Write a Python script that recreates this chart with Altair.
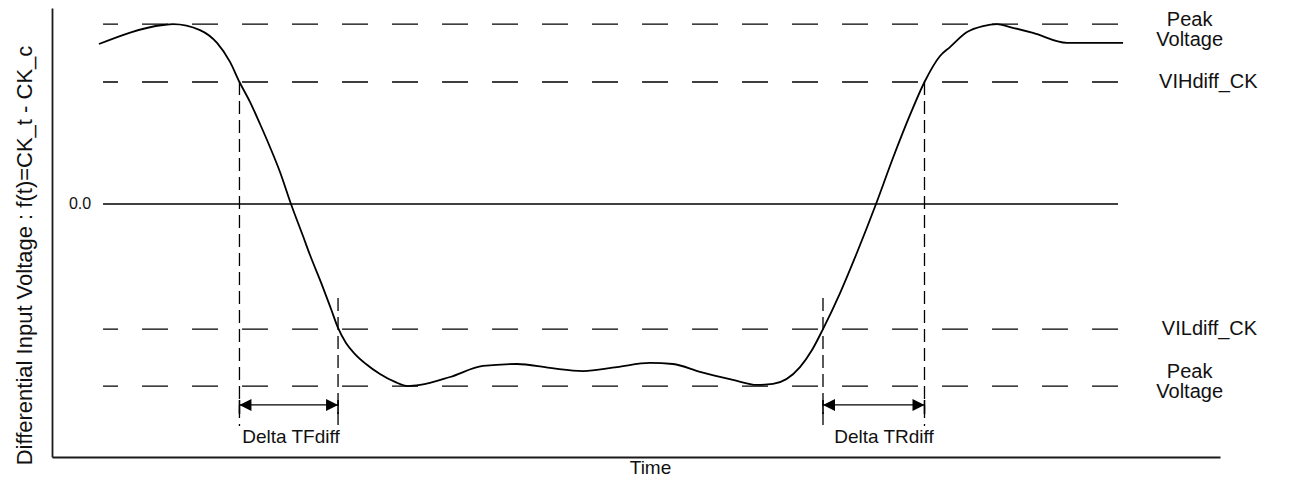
import altair as alt
import pandas as pd

# ---------------- data ----------------
time_domain = [0, 100]          # arbitrary time units
volt_domain = [-1.398, 1.083]   # normalised differential voltage

curve_t = [4.02, 9.50, 10.36, 12.67, 14.13, 15.24, 16.05, 16.95, 17.81, 18.66,
           19.52, 20.46, 21.49, 22.09, 23.12, 23.89, 24.49, 25.17, 25.94, 26.88,
           28.08, 29.37, 30.48, 31.51, 34.08, 36.90, 39.81, 42.64, 45.46, 48.37,
           51.20, 53.17, 55.48, 58.30, 60.36, 61.73, 64.04, 65.07, 66.01, 67.47,
           69.01, 70.55, 72.00, 73.46, 74.70, 76.03, 76.88, 78.34, 79.71, 80.91,
           82.02, 83.99, 86.90, 91.70]
curve_v = [0.884, 0.989, 0.994, 0.961, 0.890, 0.785, 0.674, 0.564, 0.442, 0.315,
           0.177, 0.000, -0.177, -0.282, -0.448, -0.580, -0.685, -0.768, -0.829, -0.884,
           -0.939, -0.983, -1.006, -1.000, -0.956, -0.895, -0.884, -0.906, -0.923, -0.901,
           -0.878, -0.884, -0.928, -0.972, -1.000, -0.994, -0.901, -0.807, -0.691, -0.492,
           -0.254, 0.000, 0.254, 0.492, 0.674, 0.818, 0.867, 0.950, 0.983, 0.994,
           0.978, 0.945, 0.890, 0.890]

level_names = ["Peak Voltage (high)", "VIHdiff_CK", "VILdiff_CK", "Peak Voltage (low)"]
level_values = [0.994, 0.674, -0.691, -1.006]
level_start, level_end = 4.37, 91.44
zero_value = 0.0
zero_start, zero_end = 4.37, 91.27

level_labels = ["Peak\nVoltage", "VIHdiff_CK", "VILdiff_CK", "Peak\nVoltage"]
level_label_t = [97.4, 99.0, 99.1, 97.4]
level_label_v = [1.014, 0.674, -0.691, -0.930]

zero_label = "0.0"
zero_label_t = 2.4

cross_t = [16.05, 24.49, 66.01, 74.70]
cross_top_v = [0.674, -0.519, -0.519, 0.674]
cross_bottom_v = -1.227

arrow_start_t = [16.05, 66.01]
arrow_end_t = [24.49, 74.70]
arrow_v = -1.110
arrow_tick_top, arrow_tick_bottom = -1.083, -1.160

delta_labels = ["Delta TFdiff", "Delta TRdiff"]
delta_label_t = [20.46, 71.23]
delta_label_v = -1.287

FONT = "Liberation Sans"
INK = "#111111"

# ---------------- tables ----------------
curve_df = pd.DataFrame({"t": curve_t, "v": curve_v})
levels_df = pd.DataFrame({"name": level_names, "v": level_values,
                          "t0": level_start, "t1": level_end})
zero_df = pd.DataFrame({"v": [zero_value], "t0": [zero_start], "t1": [zero_end],
                        "lab": [zero_label], "lt": [zero_label_t]})
labels_df = pd.DataFrame({"lab": level_labels, "t": level_label_t, "v": level_label_v})
cross_df = pd.DataFrame({"t": cross_t, "v0": cross_top_v, "v1": cross_bottom_v})
arrow_df = pd.DataFrame({"t0": arrow_start_t, "t1": arrow_end_t, "v": arrow_v})
ticks_df = pd.DataFrame({"t": cross_t, "v0": arrow_tick_top, "v1": arrow_tick_bottom})
heads_left_df = pd.DataFrame({"t": arrow_start_t, "v": arrow_v})
heads_right_df = pd.DataFrame({"t": arrow_end_t, "v": arrow_v})
delta_df = pd.DataFrame({"lab": delta_labels, "t": delta_label_t, "v": delta_label_v})

xs = alt.Scale(domain=time_domain, nice=False, zero=False)
ys = alt.Scale(domain=volt_domain, nice=False, zero=False)

X_AXIS = alt.Axis(
    title="Time", domain=True, ticks=False, labels=False, grid=False,
    domainColor="#1a1a1a", domainWidth=1.8, titleFont=FONT, titleFontSize=19,
    titleFontWeight="normal", titleColor=INK, titlePadding=1, titleX=598)
Y_AXIS = alt.Axis(
    title="Differential Input Voltage : f(t)=CK_t - CK_c", domain=True,
    ticks=False, labels=False, grid=False, minExtent=0,
    domainColor="#1a1a1a", domainWidth=1.8, titleFont=FONT, titleFontSize=22,
    titleFontWeight="normal", titleColor=INK, titlePadding=16, titleY=247)


def X(field):
    return alt.X(field, scale=xs, axis=X_AXIS, title="Time")


def Y(field):
    return alt.Y(field, scale=ys, axis=Y_AXIS,
                 title="Differential Input Voltage : f(t)=CK_t - CK_c")


curve = alt.Chart(curve_df).mark_line(
    color="black", strokeWidth=1.8, interpolate="monotone"
).encode(x=X("t:Q"), y=Y("v:Q"))

levels = alt.Chart(levels_df).mark_rule(
    color="black", strokeWidth=1.3, strokeDash=[26, 24], strokeDashOffset=11
).encode(x=X("t0:Q"), x2="t1:Q", y=Y("v:Q"))

zero = alt.Chart(zero_df).mark_rule(color="black", strokeWidth=1.3).encode(
    x=X("t0:Q"), x2="t1:Q", y=Y("v:Q"))

zero_text = alt.Chart(zero_df).mark_text(
    font=FONT, fontSize=16, color=INK, align="center", baseline="middle"
).encode(x=X("lt:Q"), y=Y("v:Q"), text="lab:N")

level_text = alt.Chart(labels_df).mark_text(
    font=FONT, fontSize=20, color=INK, align="center", baseline="middle",
    lineBreak="\n", lineHeight=20
).encode(x=X("t:Q"), y=Y("v:Q"), text="lab:N")

cross = alt.Chart(cross_df).mark_rule(
    color="black", strokeWidth=1.3, strokeDash=[13, 6]
).encode(x=X("t:Q"), y=Y("v0:Q"), y2="v1:Q")

arrows = alt.Chart(arrow_df).mark_rule(color="black", strokeWidth=1.4).encode(
    x=X("t0:Q"), x2="t1:Q", y=Y("v:Q"))

ticks = alt.Chart(ticks_df).mark_rule(color="black", strokeWidth=1.6).encode(
    x=X("t:Q"), y=Y("v0:Q"), y2="v1:Q")

heads_left = alt.Chart(heads_left_df).mark_point(
    shape="M0,0L1,-0.5L1,0.5Z", filled=True, size=576, color="black",
    opacity=1, strokeWidth=0
).encode(x=X("t:Q"), y=Y("v:Q"))

heads_right = alt.Chart(heads_right_df).mark_point(
    shape="M0,0L-1,-0.5L-1,0.5Z", filled=True, size=576, color="black",
    opacity=1, strokeWidth=0
).encode(x=X("t:Q"), y=Y("v:Q"))

delta_text = alt.Chart(delta_df).mark_text(
    font=FONT, fontSize=19, color=INK, align="center", baseline="middle"
).encode(x=X("t:Q"), y=Y("v:Q"), text="lab:N")

chart = alt.layer(
    curve, levels, zero, cross, ticks, arrows, heads_left, heads_right,
    zero_text, level_text, delta_text
).properties(
    width=1168, height=449,
    padding={"left": 44, "top": 0, "right": 62, "bottom": 21},
    autosize=alt.AutoSizeParams(type="none"),
    background="white",
).configure_view(stroke=None)

chart.save("out.html", embed_options={"renderer": "svg", "actions": False})
